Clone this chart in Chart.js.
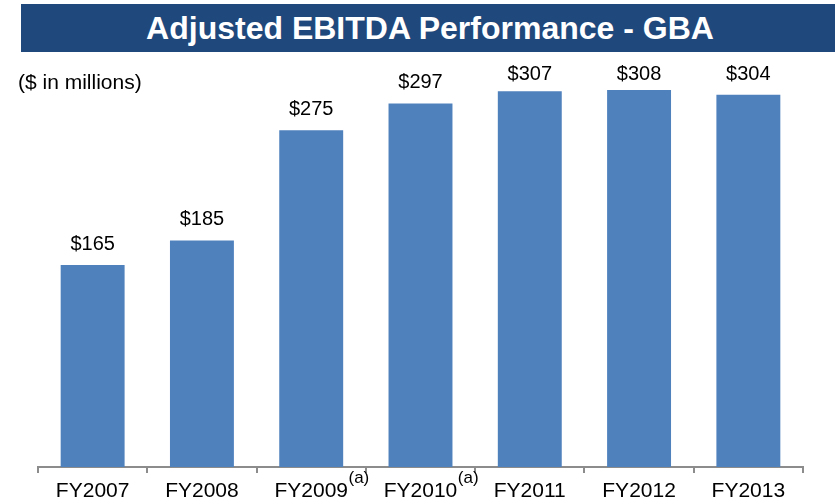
<!DOCTYPE html>
<html>
<head>
<meta charset="utf-8">
<script src="https://cdn.jsdelivr.net/npm/chart.js@4/dist/chart.umd.min.js"></script>
<style>
  html, body { margin: 0; padding: 0; background: #fff; width: 835px; height: 504px; overflow: hidden; }
  #wrap { position: relative; width: 835px; height: 504px; }
  #banner { position: absolute; left: 21px; top: 4px; width: 814px; height: 48px; background: #1F487C;
            color: #fff; font: bold 32px "Liberation Sans", Arial, sans-serif; text-align: center; line-height: 48px; }
  #banner span { position: relative; left: 2px; }
  #note { position: absolute; left: 18px; top: 70px; font: 21px "Liberation Sans", Arial, sans-serif; color: #000; }
  canvas { position: absolute; left: 0; top: 0; }
</style>
</head>
<body>
<div id="wrap">
  <canvas id="c" width="835" height="504"></canvas>
  <div id="banner"><span>Adjusted EBITDA Performance - GBA</span></div>
  <div id="note">($ in millions)</div>
</div>
<script>
const categories = ["FY2007", "FY2008", "FY2009", "FY2010", "FY2011", "FY2012", "FY2013"];
const ebitda = [165, 185, 275, 297, 307, 308, 304];
const valueLabels = ["$165", "$185", "$275", "$297", "$307", "$308", "$304"];
const footnotes = ["", "", "(a)", "(a)", "", "", ""];

const FONT = '"Liberation Sans", Arial, sans-serif';

const labelPlugin = {
  id: 'labels',
  afterDatasetsDraw(chart) {
    const ctx = chart.ctx;
    const meta = chart.getDatasetMeta(0);
    ctx.save();
    ctx.font = '20px ' + FONT;
    ctx.fillStyle = '#000';
    ctx.textAlign = 'center';
    ctx.textBaseline = 'middle';
    meta.data.forEach((bar, i) => {
      const y = Math.max(bar.y - 21, 74);
      ctx.fillText(valueLabels[i], bar.x, y);
    });
    // footnote superscripts
    const xs = chart.scales.x;
    ctx.font = '21px ' + FONT;
    const widths = categories.map(c => ctx.measureText(c).width);
    ctx.font = '17px ' + FONT;
    ctx.textAlign = 'left';
    footnotes.forEach((f, i) => {
      if (!f) return;
      const x = xs.getPixelForValue(i) + widths[i] / 2 + 0.5;
      ctx.fillText(f, x, 478);
    });
    ctx.restore();
  }
};

new Chart(document.getElementById('c'), {
  type: 'bar',
  data: {
    labels: categories,
    datasets: [{
      data: ebitda,
      backgroundColor: '#4F81BD',
      borderWidth: 0,
      barPercentage: 0.65,
      categoryPercentage: 0.9
    }]
  },
  options: {
    responsive: false,
    animation: false,
    devicePixelRatio: 1,
    layout: { padding: { left: 38, right: 32, top: 63, bottom: 0 } },
    plugins: { legend: { display: false }, tooltip: { enabled: false }, title: { display: false } },
    scales: {
      y: { display: false, min: 0, max: 330 },
      x: {
        afterFit(scale) { scale.height = 37; },
        border: { display: true, color: '#8C8C8C', width: 2 },
        grid: { offset: true, drawOnChartArea: false, drawTicks: true, tickLength: 6, color: '#8C8C8C', lineWidth: 2 },
        ticks: { color: '#000', font: { family: FONT, size: 21 }, padding: 6, maxRotation: 0, autoSkip: false }
      }
    }
  },
  plugins: [labelPlugin]
});
</script>
</body>
</html>
